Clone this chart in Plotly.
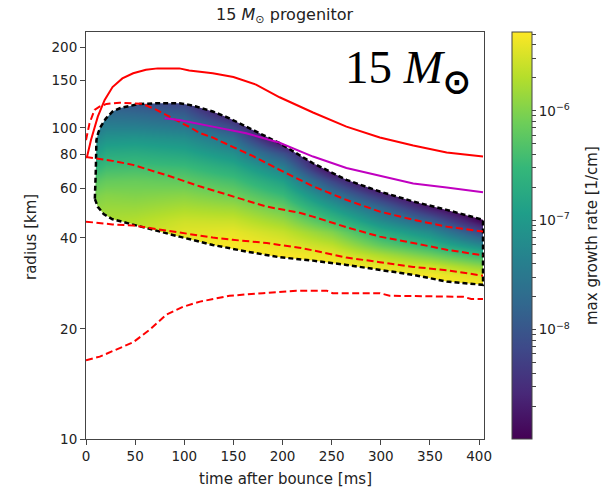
import numpy as np
import plotly.graph_objects as go

# The radius axis of the reference is logarithmic in (radius - 4 km)
R_OFFSET = 4.0

# ---------------- data ----------------
# red solid curve
solid_t = [0, 1, 5, 12, 19, 27, 37, 48, 61, 73, 95, 105, 129, 150, 173, 197, 231, 265, 299, 333, 367, 404]
solid_r = [77.5, 78, 90, 110, 127, 142, 153, 160, 165, 167, 167, 164, 160, 155, 145, 130, 114, 101, 92, 86, 81, 78.3]

# red dashed curves
dash_upper_t = [0, 3.6, 8.7, 13.7, 20.9, 34.1, 57.5, 71.8, 88, 105.4, 115.6, 128.8, 149.2, 169.6, 197, 231, 265, 299, 333, 367, 404]
dash_upper_r = [90, 104, 116.6, 120, 122.8, 124, 122.8, 116.6, 108.5, 100.7, 95.7, 92.1, 85, 78.7, 70, 61, 54.5, 49.5, 46.3, 43.8, 42.1]

dash_mid_t = [0, 27, 47.7, 81.7, 115.6, 149.2, 183.5, 217.4, 231, 265, 299, 333, 367, 404]
dash_mid_r = [78, 75.5, 73, 67, 61, 56, 51.6, 49, 47.5, 43.6, 40.4, 38.4, 36.4, 34.8]

dash_low_t = [0, 27, 48, 61, 82, 95, 116, 129, 149, 163, 184, 197, 217, 231, 265, 299, 333, 367, 404]
dash_low_r = [45.6, 44.6, 44.2, 43.5, 42.3, 41.6, 40.6, 40.1, 39.4, 39.0, 38.4, 37.8, 37.0, 36.2, 34.2, 33.0, 31.8, 31.0, 29.7]

dash_bottom_t = [0, 14, 48, 65, 82, 99, 116, 146, 180, 214, 245, 251, 299, 309, 384, 392, 404]
dash_bottom_r = [16.1, 16.5, 18.2, 19.9, 22.2, 23.5, 24.4, 25.5, 26.0, 26.5, 26.5, 26.0, 26.0, 25.5, 25.3, 24.9, 24.9]

# magenta curve
magenta_t = [80, 95, 129, 163, 197, 231, 265, 299, 333, 367, 404]
magenta_r = [108.5, 107, 101, 95.5, 88, 78.3, 71.1, 66.6, 62.5, 60.4, 58.1]

# unstable region (black dashed contour): upper edge and lower edge, both from the left corner
edge_upper_t = [9, 9.6, 10, 10.4, 10.6, 12.5, 15, 20, 27, 35, 41, 54.5, 75, 95, 104, 112, 129, 146, 163, 180, 197, 231, 265, 299, 333, 367, 400, 404]
edge_upper_r = [55, 60, 70, 83, 90, 96, 101, 108, 115, 118.5, 120, 122.8, 123.5, 123.5, 122, 120, 115, 108.5, 101, 94, 87.7, 74, 64.4, 58.4, 53.8, 50.2, 46.9, 46.3]
edge_lower_t = [9, 12, 18, 27, 44, 61, 95, 129, 163, 197, 231, 265, 299, 333, 367, 404]
edge_lower_r = [55, 51.5, 48.5, 46.5, 45, 43.3, 40.4, 37.8, 35.9, 34.3, 33.4, 32.3, 31.1, 29.9, 28.4, 27.7]

# max growth rate field, log10 [1/cm]; rows = radius, columns = time
heat_t = [5, 20, 50, 100, 150, 200, 250, 300, 350, 405]
heat_r = [26, 28, 30, 32, 35, 38, 42, 46, 51, 57, 64, 72, 81, 92, 104, 118, 130]
heat_lograte = [
    [-5.50, -5.45, -5.40, -5.28, -5.28, -5.28, -5.28, -5.28, -5.28, -5.28],
    [-5.55, -5.50, -5.42, -5.28, -5.28, -5.28, -5.28, -5.28, -5.28, -5.30],
    [-5.60, -5.55, -5.45, -5.30, -5.28, -5.28, -5.28, -5.30, -5.33, -5.50],
    [-5.65, -5.60, -5.48, -5.32, -5.28, -5.28, -5.28, -5.40, -5.55, -5.95],
    [-5.70, -5.62, -5.52, -5.34, -5.28, -5.30, -5.40, -5.75, -6.10, -6.55],
    [-5.75, -5.65, -5.55, -5.36, -5.30, -5.40, -5.65, -6.20, -6.60, -7.30],
    [-5.78, -5.70, -5.60, -5.45, -5.40, -5.60, -6.00, -6.70, -7.20, -8.25],
    [-5.82, -5.75, -5.70, -5.55, -5.57, -5.85, -6.45, -7.20, -7.85, -9.00],
    [-5.92, -5.85, -5.85, -5.75, -5.82, -6.15, -6.95, -7.75, -8.70, -9.50],
    [-6.05, -5.97, -6.00, -5.95, -6.10, -6.50, -7.50, -8.50, -9.40, -9.50],
    [-6.30, -6.17, -6.15, -6.20, -6.40, -6.90, -8.20, -9.40, -9.50, -9.50],
    [-6.65, -6.45, -6.42, -6.48, -6.75, -7.40, -9.20, -9.50, -9.50, -9.50],
    [-7.00, -6.75, -6.72, -6.82, -7.15, -8.10, -9.50, -9.50, -9.50, -9.50],
    [-7.35, -7.10, -7.07, -7.17, -7.65, -9.20, -9.50, -9.50, -9.50, -9.50],
    [-7.70, -7.45, -7.47, -7.60, -8.30, -9.50, -9.50, -9.50, -9.50, -9.50],
    [-8.00, -7.80, -7.87, -8.05, -9.10, -9.50, -9.50, -9.50, -9.50, -9.50],
    [-8.30, -8.10, -8.20, -8.50, -9.50, -9.50, -9.50, -9.50, -9.50, -9.50],
]
cbar_min, cbar_max = -9.0, -5.28

# axis ticks
x_ticks = [0, 50, 100, 150, 200, 250, 300, 350, 400]
y_ticks = [10, 20, 40, 60, 80, 100, 150, 200]
cbar_major = [-8, -7, -6]


def ty(rs):
    return [v - R_OFFSET for v in rs]


FONT = "DejaVu Sans"
AX = "#444444"
RED = "#ff0000"

fig = go.Figure()

# colorbar ticks (major labelled, minor unlabelled)
cb_vals, cb_text = [], []
for dec in range(-9, -5):
    for k in range(1, 10):
        v = dec + np.log10(k)
        if cbar_min < v < cbar_max:
            cb_vals.append(v)
            cb_text.append(f"10<sup>\u2212{-dec}</sup>" if (k == 1 and dec in cbar_major) else "")

fig.add_trace(go.Heatmap(
    x=heat_t, y=ty(heat_r), z=heat_lograte,
    zmin=cbar_min, zmax=cbar_max, colorscale="Viridis", zsmooth="best",
    hoverinfo="skip",
    colorbar=dict(
        x=(512 - 86) / 398, xanchor="left", xpad=0, ypad=0,
        y=0.5, yanchor="middle", len=1, lenmode="fraction",
        thickness=20, outlinewidth=1, outlinecolor=AX,
        tickmode="array", tickvals=cb_vals, ticktext=cb_text,
        ticks="outside", ticklen=4, tickwidth=1, tickcolor=AX,
        tickfont=dict(family=FONT, size=13.5, color="#222"),
    ),
))

# white masks outside the unstable region
lo_y, hi_y, far_l, far_r = 1.0, 5000.0, -20.0, 430.0
top_x = [far_l, far_l, edge_upper_t[0]] + edge_upper_t + [edge_upper_t[-1], far_r, far_r]
top_y = [hi_y, lo_y, lo_y] + ty(edge_upper_r) + [edge_lower_r[-1] - R_OFFSET, edge_lower_r[-1] - R_OFFSET, hi_y]
bot_x = [far_l, far_l] + edge_lower_t + [edge_lower_t[-1], far_r, far_r]
bot_y = [lo_y, edge_lower_r[0] + 5 - R_OFFSET] + ty(edge_lower_r) + [edge_lower_r[-1] + 4 - R_OFFSET, edge_lower_r[-1] + 4 - R_OFFSET, lo_y]
for mx, my in ((top_x, top_y), (bot_x, bot_y)):
    fig.add_trace(go.Scatter(x=mx, y=my, mode="lines", fill="toself", fillcolor="white",
                             line=dict(width=0, color="white"), hoverinfo="skip", showlegend=False))

# black dashed contour of the region
fig.add_trace(go.Scatter(
    x=edge_upper_t + edge_lower_t[::-1], y=ty(edge_upper_r + edge_lower_r[::-1]),
    mode="lines", line=dict(color="black", width=2.5, dash="5px,3px"),
    hoverinfo="skip", showlegend=False))

# red curves
for tt, rr, dsh in ((solid_t, solid_r, "solid"), (dash_upper_t, dash_upper_r, "7px,3.5px"),
                    (dash_mid_t, dash_mid_r, "7px,3.5px"), (dash_low_t, dash_low_r, "7px,3.5px"),
                    (dash_bottom_t, dash_bottom_r, "7px,3.5px")):
    fig.add_trace(go.Scatter(x=tt, y=ty(rr), mode="lines", line=dict(color=RED, width=2, dash=dsh),
                             hoverinfo="skip", showlegend=False))

fig.add_trace(go.Scatter(x=magenta_t, y=ty(magenta_r), mode="lines", line=dict(color="#c000c0", width=2),
                         hoverinfo="skip", showlegend=False))

fig.update_xaxes(
    range=[0, 405], tickmode="array", tickvals=x_ticks, ticktext=[str(v) for v in x_ticks],
    ticks="outside", ticklen=5, tickwidth=1, tickcolor=AX,
    showline=True, mirror=True, linecolor=AX, linewidth=1,
    showgrid=False, zeroline=False, tickfont=dict(family=FONT, size=13.5, color="#222"),
)
fig.update_yaxes(
    type="log", range=[np.log10(10 - R_OFFSET), np.log10(229.4 - R_OFFSET)],
    tickmode="array", tickvals=ty(y_ticks), ticktext=[str(v) for v in y_ticks],
    ticks="outside", ticklen=5, tickwidth=1, tickcolor=AX,
    showline=True, mirror=True, linecolor=AX, linewidth=1,
    showgrid=False, zeroline=False, tickfont=dict(family=FONT, size=13.5, color="#222"),
)

PW, PH, L, T = 398, 407, 86, 32


def px(x):
    return (x - L) / PW


def py(y):
    return (T + PH - y) / PH


annots = [
    dict(text="15 <i>M</i><sub>\u2299</sub> progenitor", x=0.5, y=py(15),
         font=dict(family=FONT, size=16, color="#222")),
    dict(text="time after bounce [ms]", x=0.5, y=py(479), font=dict(family=FONT, size=15, color="#222")),
    dict(text="radius [km]", x=px(31), y=py(237), textangle=-90, font=dict(family=FONT, size=15, color="#222")),
    dict(text="max growth rate [1/cm]", x=px(592), y=py(236), textangle=-90,
         font=dict(family=FONT, size=15, color="#222")),
    dict(text="15 <i>M</i><sub><b>\u2299</b></sub>", x=px(343), y=py(71), xanchor="left",
         font=dict(family="Liberation Serif", size=47, color="black")),
]
for a in annots:
    a.setdefault("xanchor", "center")
    fig.add_annotation(xref="paper", yref="paper", showarrow=False, yanchor="middle", **a)

fig.update_layout(
    width=608, height=490, margin=dict(l=L, r=608 - L - PW, t=T, b=490 - T - PH),
    paper_bgcolor="white", plot_bgcolor="white", showlegend=False, hovermode=False,
)

fig.write_html("out.html")
